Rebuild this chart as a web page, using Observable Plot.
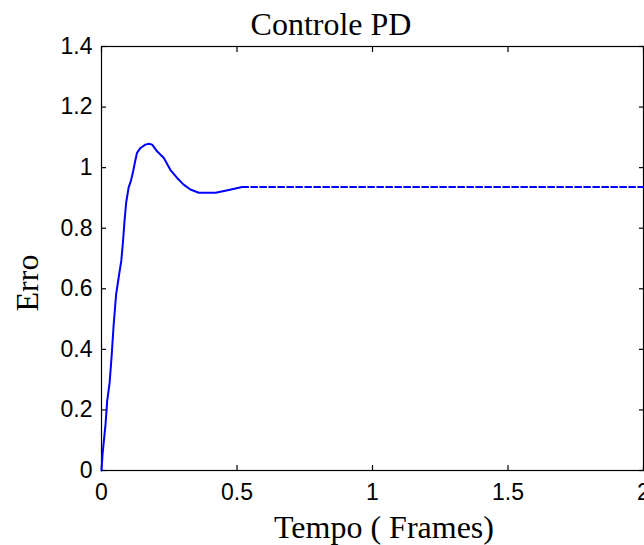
<!DOCTYPE html>
<html>
<head>
<meta charset="utf-8">
<script src="https://cdn.jsdelivr.net/npm/d3@7"></script>
<script src="https://cdn.jsdelivr.net/npm/@observablehq/plot@0.6"></script>
<style>
  html, body { margin: 0; padding: 0; background: #fff; }
  #chart { width: 644px; height: 545px; overflow: hidden; }
</style>
</head>
<body>
<div id="chart"></div>
<script>
// ---- data ----
const titleText = "Controle PD";
const xLabelText = "Tempo ( Frames)";
const yLabelText = "Erro";

const xTicks = [0, 0.5, 1, 1.5, 2];
const xTickLabels = ["0", "0.5", "1", "1.5", "2"];
const yTicks = [0, 0.2, 0.4, 0.6, 0.8, 1, 1.2, 1.4];
const yTickLabels = ["0", "0.2", "0.4", "0.6", "0.8", "1", "1.2", "1.4"];

// transient (solid part)
const tSolid = [0, 0.004, 0.015, 0.021, 0.03, 0.037, 0.045, 0.054, 0.066, 0.073, 0.079, 0.085, 0.091, 0.1, 0.109, 0.117, 0.123, 0.131, 0.144, 0.162, 0.175, 0.187, 0.205, 0.23, 0.254, 0.279, 0.303, 0.328, 0.359, 0.421, 0.47, 0.519];
const erroSolid = [0, 0.055, 0.154, 0.23, 0.29, 0.373, 0.483, 0.582, 0.653, 0.692, 0.752, 0.824, 0.884, 0.934, 0.958, 0.989, 1.016, 1.049, 1.065, 1.076, 1.079, 1.076, 1.054, 1.032, 0.993, 0.966, 0.944, 0.928, 0.917, 0.917, 0.926, 0.936];
// steady state (dashed part)
const tDashed = [0.519, 2];
const erroDashed = [0.936, 0.936];

const solid = tSolid.map((t, i) => ({t, e: erroSolid[i]}));
const dashed = tDashed.map((t, i) => ({t, e: erroDashed[i]}));

const W = 644, H = 545;
const tickFont = "Liberation Sans, Arial, sans-serif";
const serif = "Liberation Serif, Times New Roman, serif";

const plot = Plot.plot({
  width: W,
  height: H,
  marginLeft: 101,
  marginRight: 1,
  marginTop: 46,
  marginBottom: 75,
  style: {background: "white", color: "black", fontFamily: tickFont, fontSize: "23px", overflow: "hidden"},
  x: {domain: [0, 2]},
  y: {domain: [0, 1.4]},
  marks: [
    Plot.frame({stroke: "black", strokeWidth: 1.2}),
    Plot.axisX(xTicks, {anchor: "bottom", tickSize: -5, tickPadding: 18, label: null,
      tickFormat: (d, i) => xTickLabels[i], fontSize: 23, strokeWidth: 1.2}),
    Plot.axisX(xTicks, {anchor: "top", tickSize: -5, label: null, tickFormat: () => "", strokeWidth: 1.2}),
    Plot.axisY(yTicks, {anchor: "left", tickSize: -5, tickPadding: 14, label: null,
      tickFormat: (d, i) => yTickLabels[i], fontSize: 23, strokeWidth: 1.2}),
    Plot.axisY(yTicks, {anchor: "right", tickSize: -5, label: null, tickFormat: () => "", strokeWidth: 1.2}),
    Plot.line(solid, {x: "t", y: "e", stroke: "#0000ff", strokeWidth: 2}),
    Plot.line(dashed, {x: "t", y: "e", stroke: "#0000ff", strokeWidth: 2, strokeDasharray: "6,3"})
  ]
});

const svg = d3.select(plot);
svg.append("text")
  .attr("x", 331).attr("y", 35)
  .attr("text-anchor", "middle")
  .style("font-family", serif).style("font-size", "32px").attr("fill", "black")
  .text(titleText);
svg.append("text")
  .attr("x", 384).attr("y", 538)
  .attr("text-anchor", "middle")
  .style("font-family", serif).style("font-size", "32px").attr("fill", "black")
  .text(xLabelText);
svg.append("text")
  .attr("transform", "translate(38,283) rotate(-90)")
  .attr("text-anchor", "middle")
  .style("font-family", serif).style("font-size", "32px").attr("fill", "black")
  .text(yLabelText);

document.getElementById("chart").appendChild(plot);
</script>
</body>
</html>
